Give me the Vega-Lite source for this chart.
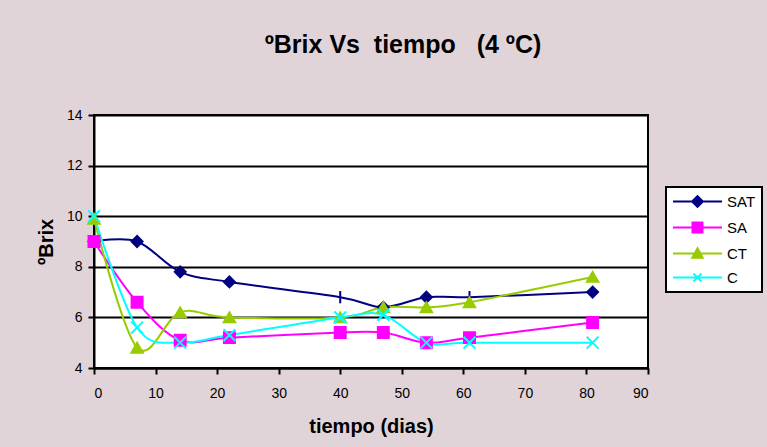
{
  "$schema": "https://vega.github.io/schema/vega-lite/v6.json",
  "width": 554,
  "height": 253,
  "autosize": {"type": "none"},
  "padding": {"left": 94, "top": 115, "right": 119, "bottom": 79},
  "background": "#e1d4d9",
  "title": {
    "text": "ºBrix Vs\u00a0\u00a0tiempo\u00a0\u00a0\u00a0(4 ºC)",
    "font": "Liberation Sans",
    "fontSize": 25,
    "fontWeight": "bold",
    "color": "black",
    "anchor": "middle",
    "frame": "group",
    "dx": 32,
    "offset": 30,
    "baseline": "alphabetic"
  },
  "data": {
    "values": [
      {"dias": 0, "serie": "SAT", "brix": 9.0},
      {"dias": 7, "serie": "SAT", "brix": 9.0},
      {"dias": 14, "serie": "SAT", "brix": 7.8},
      {"dias": 22, "serie": "SAT", "brix": 7.4},
      {"dias": 40, "serie": "SAT", "brix": 6.8},
      {"dias": 47, "serie": "SAT", "brix": 6.4},
      {"dias": 54, "serie": "SAT", "brix": 6.8},
      {"dias": 61, "serie": "SAT", "brix": 6.8},
      {"dias": 81, "serie": "SAT", "brix": 7.0},
      {"dias": 0, "serie": "SA", "brix": 9.0},
      {"dias": 7, "serie": "SA", "brix": 6.6},
      {"dias": 14, "serie": "SA", "brix": 5.1},
      {"dias": 22, "serie": "SA", "brix": 5.2},
      {"dias": 40, "serie": "SA", "brix": 5.4},
      {"dias": 47, "serie": "SA", "brix": 5.4},
      {"dias": 54, "serie": "SA", "brix": 5.0},
      {"dias": 61, "serie": "SA", "brix": 5.2},
      {"dias": 81, "serie": "SA", "brix": 5.8},
      {"dias": 0, "serie": "CT", "brix": 9.9},
      {"dias": 7, "serie": "CT", "brix": 4.8},
      {"dias": 14, "serie": "CT", "brix": 6.2},
      {"dias": 22, "serie": "CT", "brix": 6.0},
      {"dias": 40, "serie": "CT", "brix": 6.0},
      {"dias": 47, "serie": "CT", "brix": 6.4},
      {"dias": 54, "serie": "CT", "brix": 6.4},
      {"dias": 61, "serie": "CT", "brix": 6.6},
      {"dias": 81, "serie": "CT", "brix": 7.6},
      {"dias": 0, "serie": "C", "brix": 10.0},
      {"dias": 7, "serie": "C", "brix": 5.6},
      {"dias": 14, "serie": "C", "brix": 5.0},
      {"dias": 22, "serie": "C", "brix": 5.3},
      {"dias": 40, "serie": "C", "brix": 6.0},
      {"dias": 47, "serie": "C", "brix": 6.1},
      {"dias": 54, "serie": "C", "brix": 5.0},
      {"dias": 61, "serie": "C", "brix": 5.0},
      {"dias": 81, "serie": "C", "brix": 5.0}
    ]
  },
  "encoding": {
    "x": {
      "field": "dias",
      "type": "quantitative",
      "scale": {"domain": [0, 90], "nice": false, "zero": false},
      "axis": {
        "values": [0, 10, 20, 30, 40, 50, 60, 70, 80, 90],
        "title": "tiempo (dias)",
        "grid": false,
        "labelPadding": 12,
        "titlePadding": 16
      }
    },
    "y": {
      "field": "brix",
      "type": "quantitative",
      "scale": {"domain": [4, 14], "nice": false, "zero": false},
      "axis": {
        "values": [4, 6, 8, 10, 12, 14],
        "title": "ºBrix",
        "grid": true,
        "labelPadding": 6,
        "titlePadding": 10
      }
    }
  },
  "layer": [
    {
      "mark": {"type": "line", "interpolate": "cardinal", "strokeWidth": 2},
      "encoding": {
        "color": {
          "field": "serie",
          "type": "nominal",
          "scale": {"domain": ["SAT", "SA", "CT", "C"], "range": ["#000080", "#ff00ff", "#99cc00", "#00ffff"]},
          "legend": {
            "orient": "none",
            "legendX": 572,
            "legendY": 72,
            "title": null,
            "symbolSize": 225,
            "symbolStrokeWidth": 2,
            "symbolType": "stroke",
            "labelFont": "Liberation Sans",
            "labelFontSize": 15,
            "labelColor": "black",
            "labelOffset": 38,
            "strokeColor": "black",
            "fillColor": "white",
            "padding": 6,
            "rowPadding": 7,
            "encode": {
              "legend": {"update": {"strokeWidth": {"value": 2}}},
              "symbols": {
                "update": {
                  "shape": {"signal": "datum.value === 'SAT' ? 'M-1,0L5.533,0M1.547,0L2.267,-0.72L2.987,0L2.267,0.72Z' : datum.value === 'SA' ? 'M-1,0L5.533,0M1.6,-0.67L2.93,-0.67L2.93,0.67L1.6,0.67Z' : datum.value === 'CT' ? 'M-1,0L5.533,0M2.267,-0.7L2.95,0.55L1.58,0.55Z' : 'M-1,0L5.533,0M1.73,-0.53L2.8,0.53M1.73,0.53L2.8,-0.53'"},
                  "fill": {"signal": "scale('color', datum.value)"},
                  "stroke": {"signal": "scale('color', datum.value)"},
                  "strokeWidth": {"value": 2},
                  "opacity": {"value": 1}
                }
              }
            }
          }
        }
      }
    },
    {
      "transform": [{"filter": "datum.serie === 'SAT' && datum.dias !== 40 && datum.dias !== 61"}],
      "mark": {"type": "point", "filled": true, "size": 120, "strokeWidth": 2, "opacity": 1, "color": "#000080", "stroke": "#000080", "shape": "diamond"},
      "encoding": {}
    },
    {
      "transform": [{"filter": "datum.serie === 'SAT' && (datum.dias === 40 || datum.dias === 61)"}],
      "mark": {"type": "point", "filled": false, "size": 150, "strokeWidth": 2, "opacity": 1, "color": "#000080", "shape": "M0,-1L0,1"},
      "encoding": {}
    },
    {
      "transform": [{"filter": "datum.serie === 'SA'"}],
      "mark": {"type": "point", "filled": true, "size": 120, "strokeWidth": 2, "opacity": 1, "color": "#ff00ff", "stroke": "#ff00ff", "shape": "square"},
      "encoding": {}
    },
    {
      "transform": [{"filter": "datum.serie === 'CT'"}],
      "mark": {"type": "point", "filled": true, "size": 130, "strokeWidth": 2, "opacity": 1, "color": "#99cc00", "stroke": "#99cc00", "shape": "triangle-up"},
      "encoding": {}
    },
    {
      "transform": [{"filter": "datum.serie === 'C'"}],
      "mark": {"type": "point", "filled": false, "size": 140, "strokeWidth": 2, "opacity": 1, "color": "#00ffff", "shape": "M-1,-1L1,1M-1,1L1,-1"},
      "encoding": {}
    }
  ],
  "config": {
    "view": {"stroke": "black", "strokeWidth": 2, "fill": "white"},
    "axis": {
      "domainColor": "black",
      "domainWidth": 2,
      "tickColor": "black",
      "tickWidth": 2,
      "tickSize": 6,
      "gridColor": "black",
      "gridWidth": 2,
      "gridOpacity": 1,
      "labelFont": "Liberation Sans",
      "labelFontSize": 14,
      "labelColor": "black",
      "titleFont": "Liberation Sans",
      "titleFontSize": 20,
      "titleFontWeight": "bold",
      "titleColor": "black"
    }
  }
}
